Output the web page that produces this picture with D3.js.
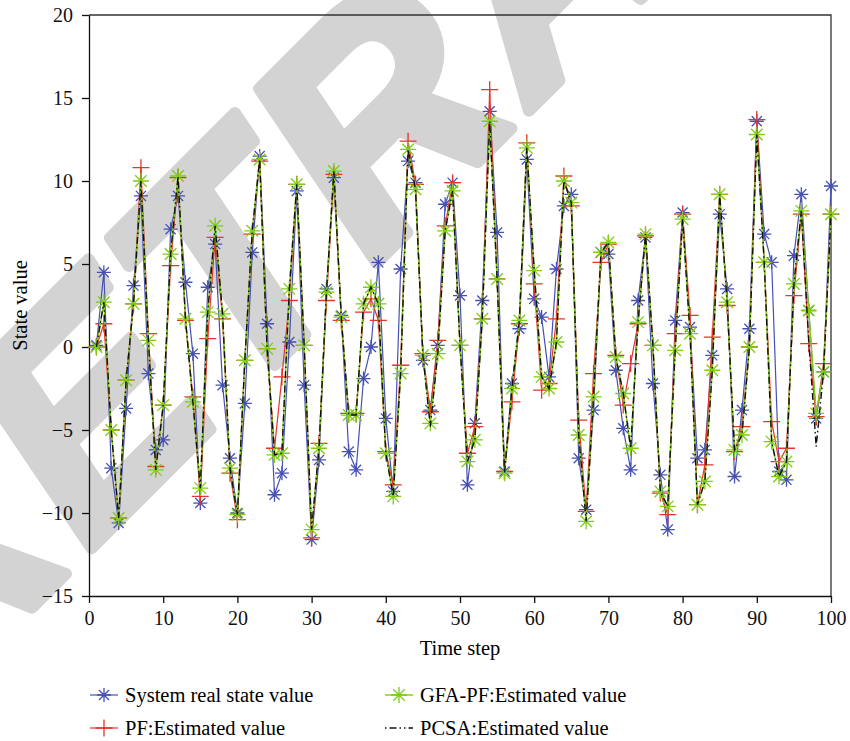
<!DOCTYPE html>
<html>
<head>
<meta charset="utf-8">
<script src="https://cdn.jsdelivr.net/npm/d3@7/dist/d3.min.js"></script>
<style>
    body { margin: 0; background: #fff; }
    svg { display: block; font-family: 'Liberation Serif', 'DejaVu Serif', serif; }
    .axis { font-family: 'Liberation Serif', 'DejaVu Serif', serif; }
    .axis text { font-size: 20px; fill: #111; }
    .axis path, .axis line { stroke: #111; stroke-width: 1.3; }
</style>
</head>
<body>
<div id="chart"></div>
<script>
const WIDTH = 850
const HEIGHT = 741

// time steps 1..100
const timeSteps = d3.range(1, 101)

const realState = [
    0.1, 4.5, -7.3, -10.6, -3.7, 3.7, 9.1, -1.6, -6.2, -5.6,
    7.1, 9.1, 3.9, -0.4, -9.4, 3.6, 6.2, -2.3, -6.7, -10.0,
    -3.4, 5.7, 11.5, 1.4, -8.9, -7.6, 0.3, 9.4, -2.3, -11.6,
    -6.8, 3.5, 10.2, 1.9, -6.3, -7.4, -1.9, 0.0, 5.1, -4.3,
    -8.7, 4.7, 11.2, 9.9, -0.8, -3.8, 0.1, 8.6, 9.9, 3.1,
    -8.3, -4.6, 2.8, 14.2, 6.9, -7.5, -2.2, 1.1, 11.3, 2.9,
    1.8, -1.8, 4.7, 8.5, 9.2, -6.7, -9.8, -3.8, 5.7, 5.6,
    -1.4, -4.9, -7.4, 2.8, 6.6, -2.2, -7.7, -11.0, 1.6, 8.1,
    1.2, -6.7, -6.2, -0.5, 8.0, 3.5, -7.8, -3.8, 1.1, 13.6,
    6.8, 5.1, -7.5, -8.0, 5.5, 9.2, 2.2, -4.3, -1.5, 9.7
]

const pfEstimate = [
    0.0, 1.4, -5.0, -10.3, -2.0, 2.6, 10.8, 0.8, -7.2, -3.5,
    4.9, 10.2, 1.6, -3.0, -9.0, 0.5, 6.6, 1.7, -7.6, -10.4,
    -0.8, 6.8, 11.2, -0.1, -6.1, -1.8, 2.8, 9.8, 0.1, -11.5,
    -5.8, 2.8, 10.4, 1.6, -4.0, -4.0, 2.1, 2.9, 1.6, -6.3,
    -8.3, -1.1, 12.4, 9.8, -0.4, -3.9, 0.4, 7.3, 9.9, 0.1,
    -6.4, -4.8, 1.7, 15.5, 4.1, -7.5, -3.3, 1.4, 12.3, 3.8,
    -2.6, -2.2, 1.7, 10.3, 8.5, -4.4, -9.9, -1.6, 5.1, 6.2,
    -0.5, -3.5, -1.0, 1.4, 6.7, 0.1, -8.8, -10.1, 0.8, 8.0,
    1.9, -9.5, -7.1, 0.6, 9.2, 2.5, -6.3, -4.8, 0.0, 13.7,
    5.1, -4.5, -6.9, -6.1, 3.1, 8.0, 0.2, -4.2, -1.0, 8.0
]

const gfaEstimate = [
    0.0, 2.7, -5.0, -10.3, -2.0, 2.6, 10.0, 0.4, -7.4, -3.5,
    5.6, 10.3, 1.7, -3.3, -8.5, 2.1, 7.3, 2.0, -7.3, -10.1,
    -0.8, 7.0, 11.3, -0.1, -6.5, -6.4, 3.5, 9.8, 0.1, -11.0,
    -6.1, 3.3, 10.6, 1.8, -4.1, -4.1, 2.6, 3.6, 2.6, -6.4,
    -9.0, -1.6, 11.9, 9.5, -0.5, -4.6, -0.4, 7.0, 9.4, 0.1,
    -6.9, -5.6, 1.7, 13.6, 4.1, -7.6, -2.5, 1.6, 12.0, 4.6,
    -1.8, -2.5, 0.3, 10.0, 8.7, -5.3, -10.5, -3.0, 5.7, 6.3,
    -0.6, -2.8, -6.1, 1.5, 6.8, 0.1, -8.7, -9.6, -0.2, 7.7,
    0.8, -9.5, -8.1, -1.4, 9.2, 2.7, -6.2, -5.3, 0.0, 12.8,
    5.1, -5.7, -7.8, -6.9, 3.8, 8.2, 2.2, -4.0, -1.5, 8.0
]

const pcsaEstimate = [
    0.0, 2.7, -5.0, -10.3, -2.0, 2.6, 10.0, 0.4, -7.4, -3.5,
    5.6, 10.3, 1.7, -3.3, -8.5, 2.1, 7.3, 2.0, -7.3, -10.1,
    -0.8, 7.0, 11.3, -0.1, -6.5, -6.4, 3.5, 9.8, 0.1, -11.0,
    -6.1, 3.3, 10.6, 1.8, -4.1, -4.1, 2.6, 3.6, 2.6, -6.4,
    -9.0, -1.6, 11.9, 9.5, -0.5, -4.8, -0.4, 7.0, 9.4, 0.1,
    -6.9, -5.6, 1.7, 13.6, 4.1, -7.6, -2.5, 1.6, 12.0, 4.6,
    -1.8, -2.5, 0.3, 10.0, 8.7, -5.3, -10.5, -3.0, 5.7, 6.3,
    -0.6, -2.8, -6.1, 1.5, 6.8, 0.1, -8.7, -9.6, -0.2, 7.7,
    0.8, -9.5, -8.1, -1.4, 9.2, 2.7, -6.2, -5.3, 0.0, 12.8,
    5.1, -5.7, -7.8, -6.9, 3.8, 8.2, 0.4, -6.0, -1.5, 8.0
]

const xTicks = [0, 10, 20, 30, 40, 50, 60, 70, 80, 90, 100]
const yTicks = [-15, -10, -5, 0, 5, 10, 15, 20]

const seriesNames = [
    'System real state value',
    'PF:Estimated value',
    'GFA-PF:Estimated value',
    'PCSA:Estimated value'
]

const margin = { left: 89, right: 19, top: 15, bottom: 145 }

const svg = d3.select('#chart')
    .append('svg')
    .attr('width', WIDTH)
    .attr('height', HEIGHT)

// faint retraction watermark behind everything
svg.append('text')
    .attr('transform', 'translate(537,-50) rotate(-45)')
    .attr('text-anchor', 'middle')
    .attr('dy', '0.36em')
    .style('font-family', "'Liberation Sans', Arial, sans-serif")
    .style('font-weight', 'bold')
    .style('font-style', 'italic')
    .style('font-size', '300px')
    .style('letter-spacing', '10px')
    .style('fill', '#d3d3d3')
    .style('stroke', '#d3d3d3')
    .style('stroke-width', 12)
    .style('stroke-linejoin', 'round')
    .text('RETRACTED')

const x = d3.scaleLinear().domain([0, 100]).range([margin.left, WIDTH - margin.right])
const y = d3.scaleLinear().domain([-15, 20]).range([HEIGHT - margin.bottom, margin.top])

// frame top/right
svg.append('path')
    .attr('d', `M${x(0)},${y(20)}H${x(100)}V${y(-15)}`)
    .attr('fill', 'none')
    .attr('stroke', '#333')
    .attr('stroke-width', 1.3)

svg.append('g')
    .attr('class', 'axis')
    .attr('transform', `translate(0,${y(-15)})`)
    .call(d3.axisBottom(x).tickValues(xTicks).tickSize(7).tickPadding(8).tickSizeOuter(0))

svg.append('g')
    .attr('class', 'axis')
    .attr('transform', `translate(${x(0)},0)`)
    .call(d3.axisLeft(y).tickValues(yTicks).tickSize(7).tickPadding(9).tickSizeOuter(0))

svg.append('text')
    .attr('x', (x(0) + x(100)) / 2)
    .attr('y', 655)
    .attr('text-anchor', 'middle')
    .style('font-size', '20.5px')
    .text('Time step')

svg.append('text')
    .attr('transform', `translate(27,${(y(20) + y(-15)) / 2}) rotate(-90)`)
    .attr('text-anchor', 'middle')
    .style('font-size', '20.5px')
    .text('State value')

// marker shapes
function asterisk(r) {
    const d = r * 0.72
    return `M${-r},0H${r}M0,${-r}V${r}M${-d},${-d}L${d},${d}M${-d},${d}L${d},${-d}`
}
function plus(r) {
    return `M${-r},0H${r}M0,${-r}V${r}`
}

const series = [
    { values: realState, color: '#4650b3', width: 1.2, marker: asterisk(7) },
    { values: pfEstimate, color: '#e8322b', width: 1.2, marker: plus(8.5) },
    { values: gfaEstimate, color: '#7fcc14', width: 1.4, marker: asterisk(8) },
    { values: pcsaEstimate, color: '#111', width: 1.4, dash: '7,3,1.5,3', marker: null }
]

const line = d3.line()
    .x((d, i) => x(timeSteps[i]))
    .y(d => y(d))

series.forEach(s => {
    const g = svg.append('g')
    g.append('path')
        .attr('d', line(s.values))
        .attr('fill', 'none')
        .attr('stroke', s.color)
        .attr('stroke-width', s.width)
        .attr('stroke-dasharray', s.dash || null)
    if (s.marker) {
        g.selectAll('path.mk')
            .data(s.values)
            .enter()
            .append('path')
            .attr('class', 'mk')
            .attr('transform', (d, i) => `translate(${x(timeSteps[i])},${y(d)})`)
            .attr('d', s.marker)
            .attr('fill', 'none')
            .attr('stroke', s.color)
            .attr('stroke-width', 1.3)
    }
})

// legend, two columns
const legendPos = [
    { x: 90, y: 695 },
    { x: 90, y: 728 },
    { x: 385, y: 695 },
    { x: 385, y: 728 }
]

series.forEach((s, i) => {
    const p = legendPos[i]
    const g = svg.append('g').attr('transform', `translate(${p.x},${p.y})`)
    g.append('path')
        .attr('d', 'M0,0H28')
        .attr('stroke', s.color)
        .attr('stroke-width', s.width)
        .attr('stroke-dasharray', s.dash ? '1.5,3,7,3,1.5,3' : null)
    if (s.marker) {
        g.append('path')
            .attr('transform', 'translate(14,0)')
            .attr('d', s.marker)
            .attr('fill', 'none')
            .attr('stroke', s.color)
            .attr('stroke-width', 1.3)
    }
    g.append('text')
        .attr('x', 35)
        .attr('y', 7)
        .style('font-size', '20.5px')
        .text(seriesNames[i])
})
</script>
</body>
</html>
